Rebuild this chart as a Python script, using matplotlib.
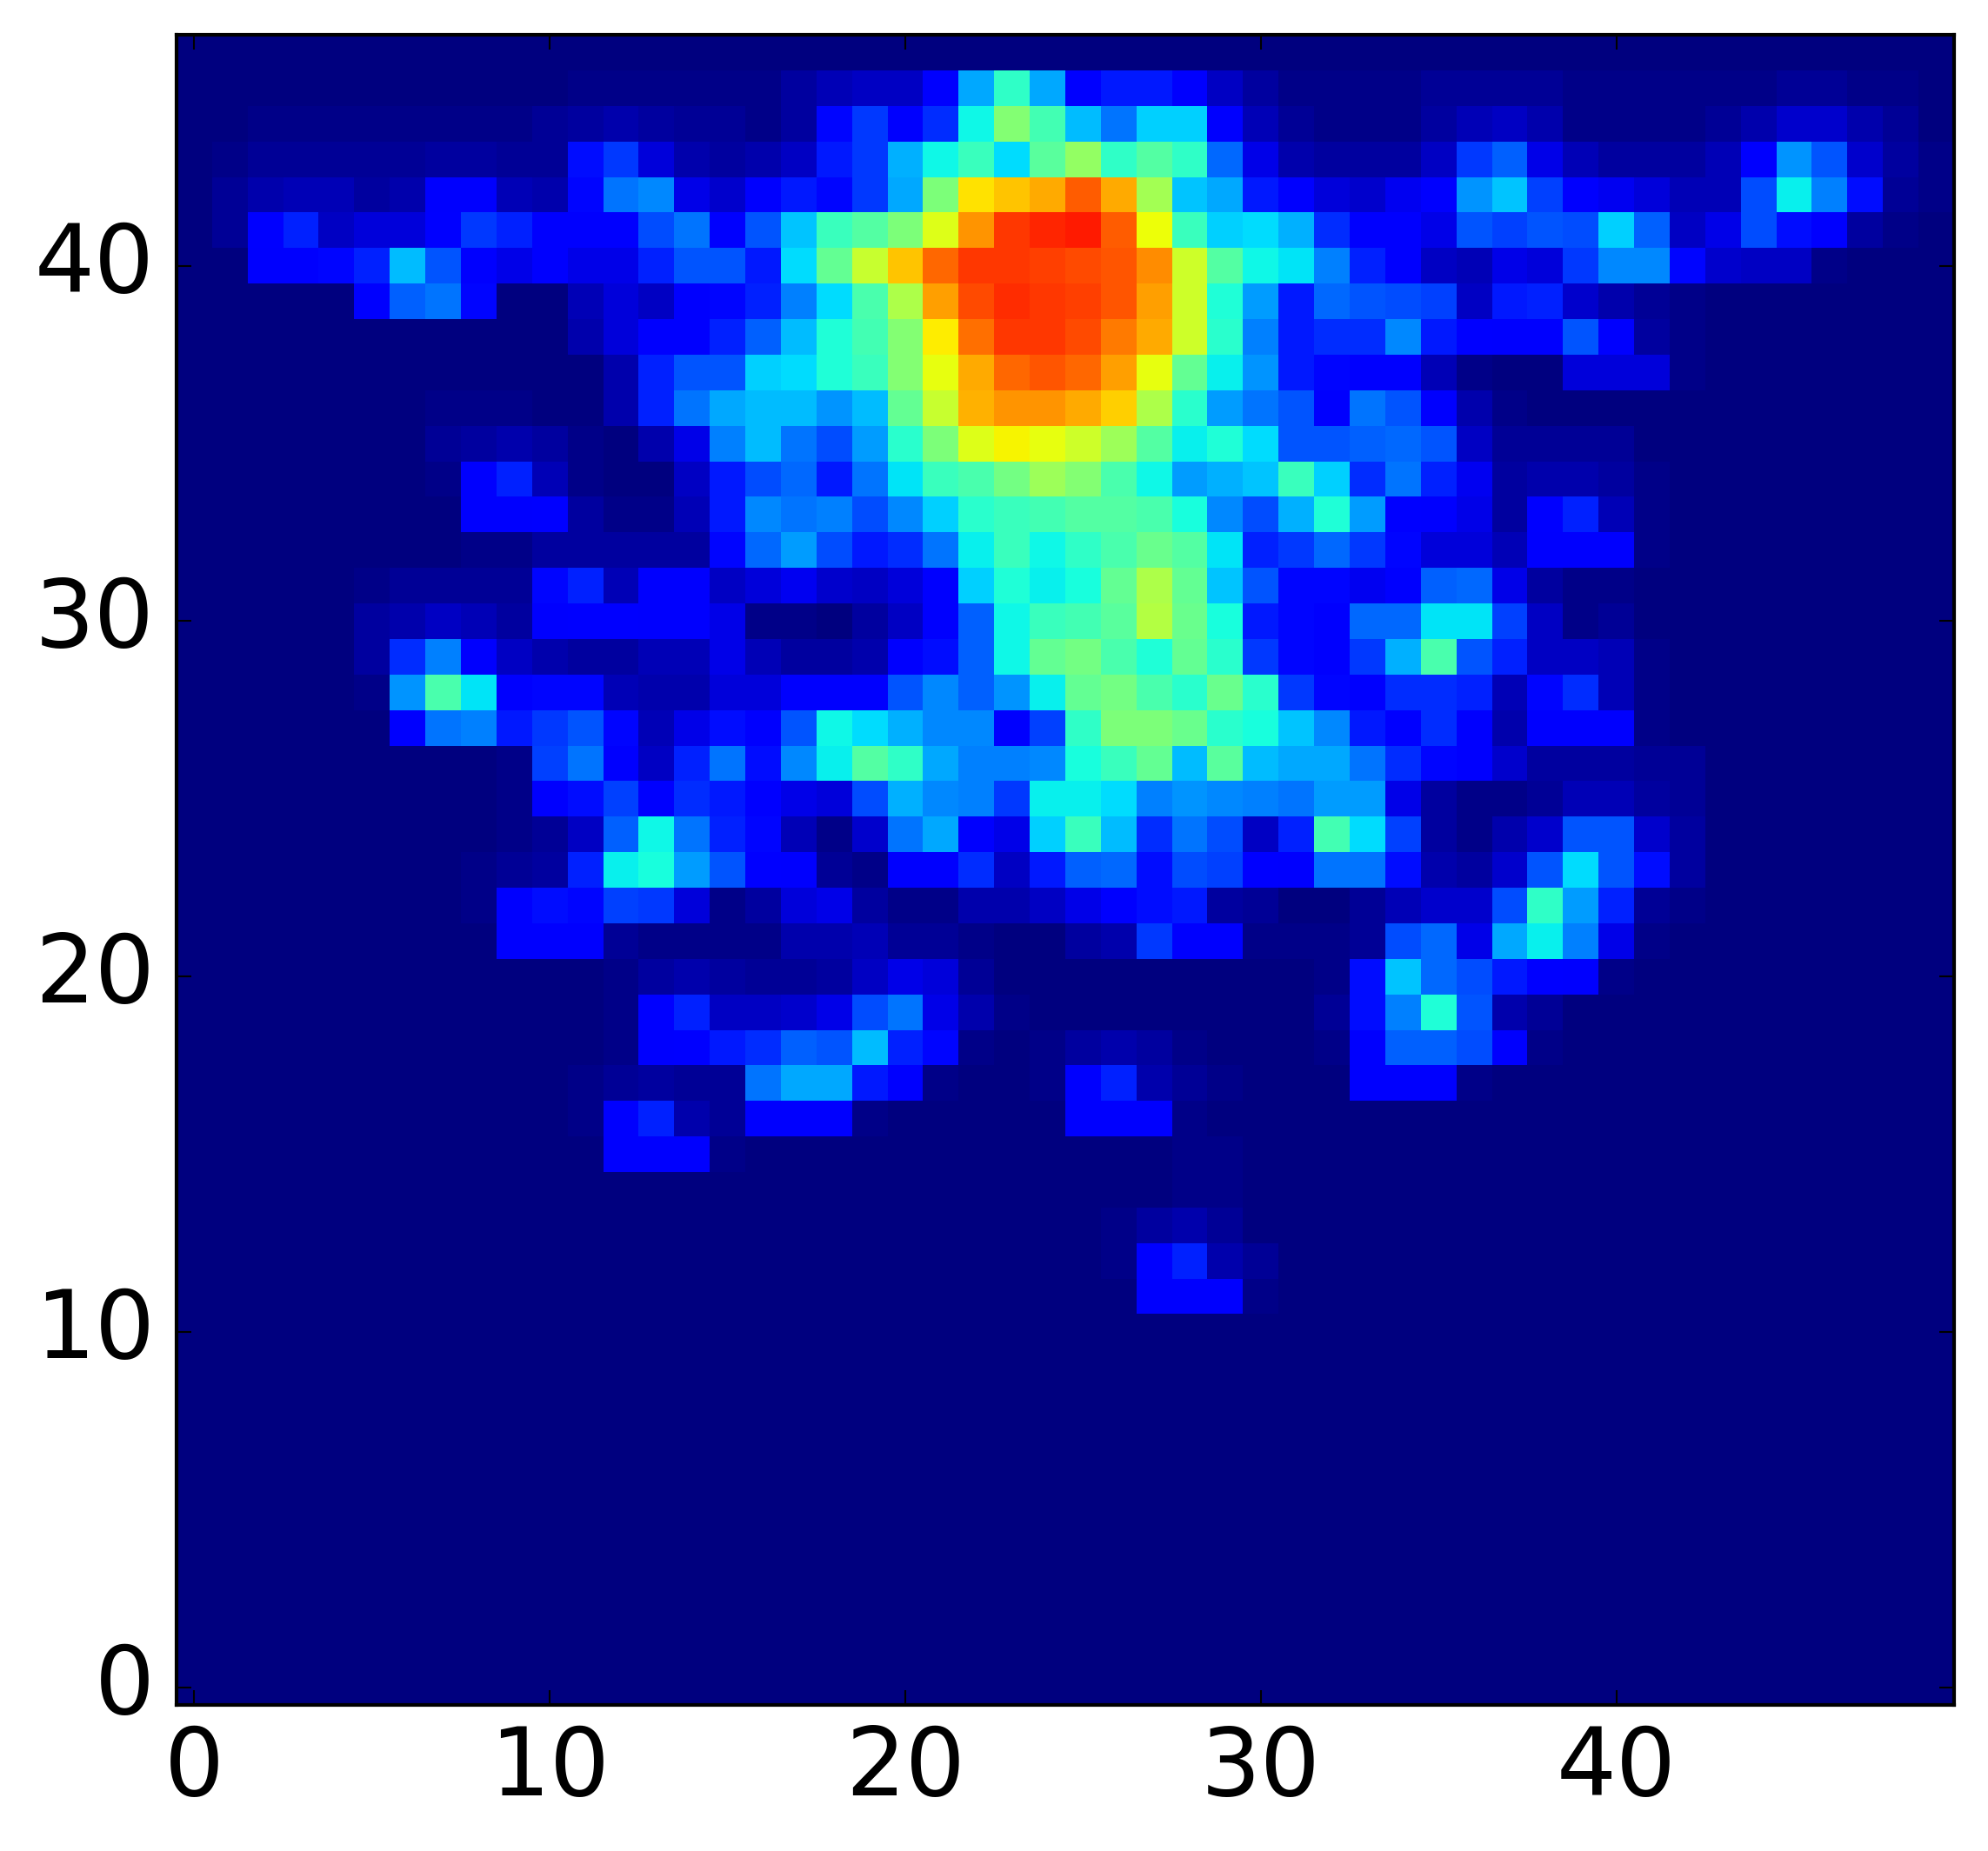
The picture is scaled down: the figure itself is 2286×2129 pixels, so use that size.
import numpy as np
import matplotlib
matplotlib.use("Agg")
import matplotlib.pyplot as plt

blank = [0] * 50
r46 = blank
r45 = [0,0,0,0,0,0,0,0,0,0, 0,1,1,1,1,1,1,3,5,6, 6,11,29,41,29,12,15,15,11,6, 3,1,1,1,1,2,2,2,2,1, 1,1,1,1,1,2,2,1,1,0]
r44 = [0,0,1,1,1,1,1,1,1,1, 2,3,4,3,2,2,1,3,13,18, 11,17,37,51,43,31,24,33,33,11, 5,2,1,1,1,3,5,6,4,1, 1,1,1,2,4,7,7,4,2,0]
r43 = [0,1,2,2,2,2,2,3,3,2, 2,14,18,8,4,3,4,6,15,18, 30,37,42,34,46,53,41,45,41,23, 9,4,3,3,3,6,18,22,9,5, 3,3,3,5,11,27,21,7,3,1]
r42 = [0,2,4,5,5,3,4,11,11,5, 4,13,24,26,9,7,11,15,13,18, 29,50,67,70,73,81,73,55,32,29, 15,11,8,7,10,11,27,32,19,11, 10,8,5,5,20,36,25,14,2,1]
r41 = [0,2,12,16,6,8,8,12,18,16, 11,11,11,20,24,11,21,32,42,45, 50,62,75,85,87,88,81,64,42,33, 34,30,17,11,11,9,21,19,21,20, 33,22,6,9,20,14,11,3,1,0]
r40 = [0,0,11,11,13,16,31,21,11,9, 11,9,9,16,21,21,15,34,47,59, 70,80,85,85,84,83,82,76,60,45, 37,35,25,16,11,6,5,9,8,18, 26,26,13,7,6,6,1,0,0,0]
r39 = [0,0,0,0,0,11,22,24,13,0, 0,5,8,6,11,13,16,25,34,44, 56,74,83,86,85,84,82,74,60,39, 28,15,23,21,20,19,6,15,16,7, 4,2,1,0,0,0,0,0,0,0]
r38 = [0,0,0,0,0,0,0,0,0,0, 0,4,8,11,11,16,22,31,39,43, 51,66,79,85,85,83,78,73,60,40, 25,15,17,17,26,15,12,11,11,21, 11,3,1,0,0,0,0,0,0,0]
r37 = [0,0,0,0,0,0,0,0,0,0, 0,0,4,16,21,21,33,34,39,42, 51,63,73,80,82,80,74,63,47,36, 27,15,13,11,11,5,1,0,0,8, 8,8,1,0,0,0,0,0,0,0]
r36 = [0,0,0,0,0,0,0,1,1,1, 0,0,4,16,24,29,31,31,27,31, 47,59,72,75,75,73,69,56,40,28, 24,21,11,24,21,11,4,1,0,0, 0,0,0,0,0,0,0,0,0,0]
r35 = [0,0,0,0,0,0,0,2,3,4, 3,1,0,4,9,25,31,24,20,28, 40,50,62,65,63,60,54,45,36,39, 34,21,21,22,23,21,6,2,2,2, 2,0,0,0,0,0,0,0,0,0]
r34 = [0,0,0,0,0,0,0,1,11,16, 5,1,0,0,6,15,20,23,15,24, 35,42,44,49,54,51,44,37,28,30, 32,42,33,17,24,16,10,3,4,4, 3,1,0,0,0,0,0,0,0,0]
r33 = [0,0,0,0,0,0,0,0,11,11, 12,3,1,1,5,15,26,24,25,20, 26,33,40,42,43,45,45,44,38,26, 20,30,39,28,12,11,9,3,12,16, 5,1,0,0,0,0,0,0,0,0]
r32 = [0,0,0,0,0,0,0,0,1,1, 3,3,3,3,3,13,23,28,20,15, 17,24,36,42,37,41,44,48,45,35, 16,18,23,18,13,8,8,5,11,11, 11,1,0,0,0,0,0,0,0,0]
r31 = [0,0,0,0,0,1,2,2,2,2, 13,16,5,11,11,6,8,10,7,6, 8,11,33,39,36,38,47,56,47,32, 21,13,13,10,11,22,23,9,3,1, 1,0,0,0,0,0,0,0,0,0]
r30 = [0,0,0,0,0,3,4,6,5,3, 11,12,12,11,11,9,1,1,0,3, 6,11,22,37,42,43,46,57,48,38, 15,13,11,23,23,35,35,19,6,1, 2,0,0,0,0,0,0,0,0,0]
r29 = [0,0,0,0,0,3,17,25,11,6, 4,3,3,5,5,9,5,3,3,4, 11,14,22,37,47,49,44,39,47,40, 18,13,11,18,30,44,21,16,6,6, 5,1,0,0,0,0,0,0,0,0]
r28 = [0,0,0,0,0,1,27,44,35,11, 13,13,5,4,4,8,8,11,11,11, 21,26,22,27,36,47,49,44,40,48, 40,18,13,11,17,17,16,5,13,17, 5,1,0,0,0,0,0,0,0,0]
r27 = [0,0,0,0,0,0,11,24,25,15, 18,21,13,5,9,14,11,21,37,34, 30,26,26,11,19,41,50,50,48,40, 38,32,26,15,12,17,11,4,11,11, 11,1,0,0,0,0,0,0,0,0]
r26 = [0,0,0,0,0,0,0,0,0,1, 19,24,11,6,16,24,14,26,36,45, 41,29,25,25,26,38,42,47,31,46, 31,29,29,24,17,13,11,7,3,3, 3,2,2,0,0,0,0,0,0,0]
r25 = [0,0,0,0,0,0,0,0,0,1, 11,14,19,11,17,15,12,9,8,20, 30,26,25,18,36,36,34,25,27,26, 25,24,28,28,9,3,1,1,2,5, 5,3,2,0,0,0,0,0,0,0]
r24 = [0,0,0,0,0,0,0,0,0,1, 2,6,22,37,24,16,13,5,1,7, 24,29,11,9,33,42,31,17,24,20, 6,16,43,34,19,3,1,4,7,21, 21,7,3,0,0,0,0,0,0,0]
r23 = [0,0,0,0,0,0,0,0,1,2, 3,16,36,38,28,21,12,11,2,1, 11,11,17,6,15,22,23,14,20,19, 12,11,24,24,14,4,3,7,21,34, 21,14,3,0,0,0,0,0,0,0]
r22 = [0,0,0,0,0,0,0,0,1,11, 14,13,19,18,8,1,3,8,9,3, 1,1,4,4,6,9,11,14,15,3, 2,0,0,2,5,7,7,20,41,28, 16,2,1,0,0,0,0,0,0,0]
r21 = [0,0,0,0,0,0,0,0,0,11, 11,11,2,1,1,1,1,4,4,5, 2,2,1,0,0,3,4,18,11,11, 1,1,1,2,20,23,9,29,36,25, 9,1,0,0,0,0,0,0,0,0]
r20 = [0,0,0,0,0,0,0,0,0,0, 0,0,1,3,4,3,2,2,3,6, 9,8,2,0,0,0,0,0,0,0, 0,0,1,14,32,23,20,15,12,11, 1,0,0,0,0,0,0,0,0,0]
r19 = [0,0,0,0,0,0,0,0,0,0, 0,0,1,12,16,6,6,7,9,20, 24,9,4,1,0,0,0,0,0,0, 0,0,2,14,25,39,21,4,2,0, 0,0,0,0,0,0,0,0,0,0]
r18 = [0,0,0,0,0,0,0,0,0,0, 0,0,1,11,12,15,17,22,21,31, 16,13,1,0,1,3,4,3,1,0, 0,0,1,11,22,22,20,11,1,0, 0,0,0,0,0,0,0,0,0,0]
r17 = [0,0,0,0,0,0,0,0,0,0, 0,1,2,3,2,2,24,29,29,15, 11,1,0,0,1,11,16,4,2,1, 0,0,0,11,11,11,1,0,0,0, 0,0,0,0,0,0,0,0,0,0]
r16 = [0,0,0,0,0,0,0,0,0,0, 0,1,11,16,4,2,11,11,11,1, 0,0,0,0,0,11,11,11,1,0, 0,0,0,0,0,0,0,0,0,0, 0,0,0,0,0,0,0,0,0,0]
r15 = [0,0,0,0,0,0,0,0,0,0, 0,0,11,11,11,1,0,0,0,0, 0,0,0,0,0,0,0,0,1,1, 0,0,0,0,0,0,0,0,0,0, 0,0,0,0,0,0,0,0,0,0]
r14 = [0,0,0,0,0,0,0,0,0,0, 0,0,0,0,0,0,0,0,0,0, 0,0,0,0,0,0,0,0,1,1, 0,0,0,0,0,0,0,0,0,0, 0,0,0,0,0,0,0,0,0,0]
r13 = [0,0,0,0,0,0,0,0,0,0, 0,0,0,0,0,0,0,0,0,0, 0,0,0,0,0,0,1,3,4,2, 0,0,0,0,0,0,0,0,0,0, 0,0,0,0,0,0,0,0,0,0]
r12 = [0,0,0,0,0,0,0,0,0,0, 0,0,0,0,0,0,0,0,0,0, 0,0,0,0,0,0,1,12,16,4, 2,0,0,0,0,0,0,0,0,0, 0,0,0,0,0,0,0,0,0,0]
r11 = [0,0,0,0,0,0,0,0,0,0, 0,0,0,0,0,0,0,0,0,0, 0,0,0,0,0,0,0,11,11,11, 1,0,0,0,0,0,0,0,0,0, 0,0,0,0,0,0,0,0,0,0]

rows_top_down = [r46, r45, r44, r43, r42, r41, r40, r39, r38, r37, r36, r35, r34, r33, r32,
                 r31, r30, r29, r28, r27, r26, r25, r24, r23, r22, r21, r20, r19, r18, r17,
                 r16, r15, r14, r13, r12, r11] + [blank] * 11
x_ticks = [0, 10, 20, 30, 40]
y_ticks = [0, 10, 20, 30, 40]

W, H = 2286, 2129
dpi = 300
L, R, T, B = 203, 2247, 40, 1961

plt.rcParams['ytick.alignment'] = 'center'

heat = np.array(rows_top_down[::-1], dtype=float)

fig = plt.figure(figsize=(W / dpi, H / dpi), dpi=dpi)
ax = fig.add_axes([L / W, 1 - B / H, (R - L) / W, (B - T) / H])
ax.imshow(heat, cmap="jet", vmin=0, vmax=100, origin="lower",
          interpolation="nearest", aspect="auto")
ax.set_xticks(x_ticks)
ax.set_yticks(y_ticks)
ax.tick_params(direction="in", top=True, right=True, length=4, width=0.5, labelsize=26)
ax.tick_params(axis="x", pad=5)
ax.tick_params(axis="y", pad=6)
for s in ax.spines.values():
    s.set_linewidth(1.0)
fig.savefig("out.png", dpi=dpi)
